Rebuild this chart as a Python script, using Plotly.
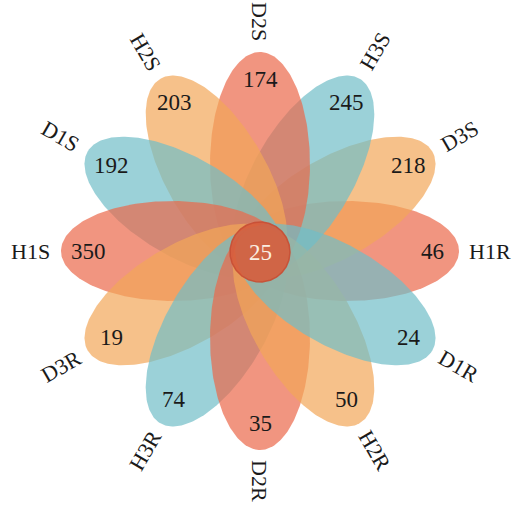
import numpy as np
import plotly.graph_objects as go

# Petal data, counter-clockwise starting from the right (0 degrees)
samples = ["H1R", "D3S", "H3S", "D2S", "H2S", "D1S",
           "H1S", "D3R", "H3R", "D2R", "H2R", "D1R"]
unique_counts = [46, 218, 245, 174, 203, 192,
                 350, 19, 74, 35, 50, 24]
petal_colors = ["rgba(235,104,74,0.70)", "rgba(242,166,88,0.70)", "rgba(112,190,200,0.70)"] * 4
core_count = 25

# Geometry (data units == pixels)
A_SEMI = 112      # semi-axis along the petal direction
B_SEMI = 50       # semi-axis across the petal
OFFSET = 87       # distance from flower centre to ellipse centre
NUM_R = 172       # radius for count labels
LAB_R = 230       # radius for sample names
CORE_R = 30

fig = go.Figure()
t = np.linspace(0, 2 * np.pi, 241)
n = len(samples)
for i, (name, col) in enumerate(zip(samples, petal_colors)):
    th = np.deg2rad(360 / n * i)
    cx, cy = OFFSET * np.cos(th), OFFSET * np.sin(th)
    ex, ey = A_SEMI * np.cos(t), B_SEMI * np.sin(t)
    x = cx + ex * np.cos(th) - ey * np.sin(th)
    y = cy + ex * np.sin(th) + ey * np.cos(th)
    fig.add_trace(go.Scatter(x=x, y=y, mode="lines", fill="toself",
                             fillcolor=col, line=dict(width=0),
                             hoverinfo="skip", showlegend=False, name=name))

# Core circle
fig.add_trace(go.Scatter(x=CORE_R * np.cos(t), y=-1 + CORE_R * np.sin(t), mode="lines",
                         fill="toself", fillcolor="rgba(214,92,60,0.90)",
                         line=dict(color="rgba(200,78,52,0.9)", width=1.5),
                         hoverinfo="skip", showlegend=False))

serif = "Liberation Serif, Times New Roman, serif"
annotations = []
for i, (name, cnt) in enumerate(zip(samples, unique_counts)):
    deg = 360 / n * i
    th = np.deg2rad(deg)
    annotations.append(dict(x=NUM_R * np.cos(th), y=NUM_R * np.sin(th), text=str(cnt),
                            showarrow=False, font=dict(family=serif, size=23, color="#1a1a1a")))
    ang = (-deg) % 180
    if ang > 90:
        ang -= 180
    annotations.append(dict(x=LAB_R * np.cos(th), y=LAB_R * np.sin(th), text=name,
                            textangle=ang, showarrow=False,
                            font=dict(family=serif, size=22, color="#1a1a1a")))
annotations.append(dict(x=0, y=-1, text=str(core_count), showarrow=False,
                        font=dict(family=serif, size=23, color="#fbeee2")))

fig.update_layout(
    width=514, height=510, margin=dict(l=0, r=0, t=0, b=0),
    paper_bgcolor="white", plot_bgcolor="white",
    xaxis=dict(range=[-260, 254], visible=False, fixedrange=True),
    yaxis=dict(range=[-259, 251], visible=False, fixedrange=True),
    annotations=annotations,
)
fig.write_html("out.html")
